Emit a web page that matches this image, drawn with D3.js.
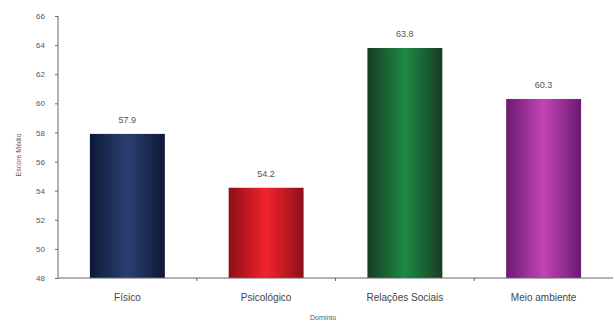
<!DOCTYPE html>
<html>
<head>
<meta charset="utf-8">
<script src="https://cdn.jsdelivr.net/npm/d3@7"></script>
<style>
  body { margin: 0; background: #fff; }
  svg { font-family: "Liberation Sans", Arial, sans-serif; }
</style>
</head>
<body>
<div id="chart"></div>
<script>
// Chart data
const categories = ["Físico", "Psicológico", "Relações Sociais", "Meio ambiente"];
const values = [57.9, 54.2, 63.8, 60.3];
const yTicks = [48, 50, 52, 54, 56, 58, 60, 62, 64, 66];
// edge / centre colours for each bar's gradient
const edgeColors = ["#0c1836", "#8e0f18", "#173d22", "#6b1a72"];
const midColors = ["#2c3f72", "#f2232e", "#1c8a45", "#c245b4"];

const width = 615
const height = 325
const margin = { top: 16, right: 2, bottom: 47, left: 58 }

const svg = d3.select("#chart")
  .append("svg")
  .attr("width", width)
  .attr("height", height)

// Gradients, dark at the edges and light in the middle
const defs = svg.append("defs")
categories.forEach((c, i) => {
  const g = defs.append("linearGradient")
    .attr("id", "grad" + i)
    .attr("x1", "0%").attr("x2", "100%")
    .attr("y1", "0%").attr("y2", "0%")
  g.append("stop").attr("offset", "0%").attr("stop-color", edgeColors[i])
  g.append("stop").attr("offset", "50%").attr("stop-color", midColors[i])
  g.append("stop").attr("offset", "100%").attr("stop-color", edgeColors[i])
})

const g = svg.append("g")
  .attr("transform", "translate(" + margin.left + "," + margin.top + ")")

const w = width - margin.left - margin.right
const h = height - margin.top - margin.bottom

const x = d3.scaleBand()
  .domain(categories)
  .range([0, w])
  .paddingInner(0.46)
  .paddingOuter(0.23)

const y = d3.scaleLinear()
  .domain([48, 66])
  .range([h, 0])

// Bars
g.selectAll("bar")
  .data(values)
  .enter()
  .append("rect")
  .attr("x", (d, i) => x(categories[i]))
  .attr("y", d => y(d))
  .attr("width", x.bandwidth())
  .attr("height", d => h - y(d))
  .attr("fill", (d, i) => "url(#grad" + i + ")")

// Value labels
g.selectAll("vals")
  .data(values)
  .enter()
  .append("text")
  .attr("x", (d, i) => x(categories[i]) + x.bandwidth() / 2)
  .attr("y", d => y(d) - 11)
  .attr("text-anchor", "middle")
  .style("font-size", "9px")
  .style("fill", "#555")
  .text(d => d.toFixed(1))

// Y axis
const yAxis = g.append("g")
  .call(d3.axisLeft(y).tickValues(yTicks).tickSize(3).tickPadding(10))
yAxis.select(".domain").attr("stroke", "#666").attr("d", "M0," + h + "V0")
yAxis.selectAll(".tick line").attr("stroke", "#666")
yAxis.selectAll("text").style("font-size", "8px").style("fill", "#555")

// X axis, ticks at the band borders
const xAxis = g.append("g")
  .attr("transform", "translate(0," + h + ")")
  .call(d3.axisBottom(x).tickSize(0).tickPadding(16))
xAxis.select(".domain").attr("stroke", "#666").attr("d", "M0,0H" + w)
xAxis.selectAll("text").style("font-size", "10px").style("fill", "#444")

g.selectAll("sep")
  .data(categories.slice(1))
  .enter()
  .append("line")
  .attr("x1", d => x(d) - x.step() * x.paddingInner() / 2)
  .attr("x2", d => x(d) - x.step() * x.paddingInner() / 2)
  .attr("y1", h)
  .attr("y2", h + 3)
  .attr("stroke", "#666")

// Axis titles
svg.append("text")
  .attr("transform", "translate(21," + (margin.top + h / 2 + 8) + ")rotate(-90)")
  .attr("text-anchor", "middle")
  .style("font-size", "7px")
  .style("fill", "#6a5560")
  .text("Escore Médio")

svg.append("text")
  .attr("x", 323)
  .attr("y", 320)
  .attr("text-anchor", "middle")
  .style("font-size", "7px")
  .style("fill", "#555")
  .text("Domínio")
</script>
</body>
</html>
